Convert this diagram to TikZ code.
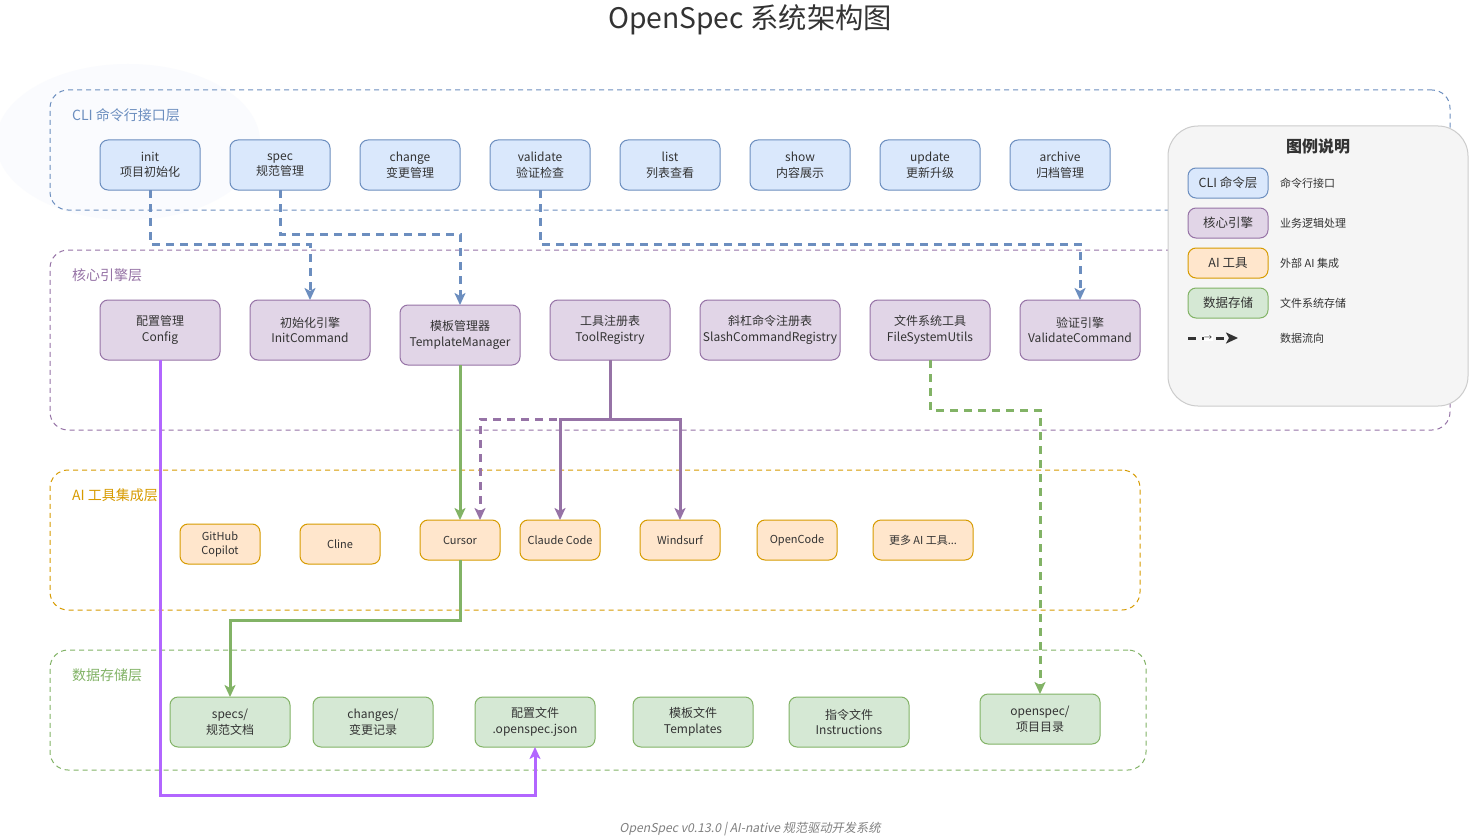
\documentclass[tikz,border=0pt]{standalone}
\usepackage{fontspec}
\setmainfont{Noto Sans CJK SC}
\newfontfamily\footfont[FakeSlant=0.2]{Noto Sans CJK SC}
\usetikzlibrary{arrows.meta,positioning,shapes.geometric}
\definecolor{clifill}{HTML}{DAE8FC}
\definecolor{clidraw}{HTML}{6C8EBF}
\definecolor{corefill}{HTML}{E1D5E7}
\definecolor{coredraw}{HTML}{9673A6}
\definecolor{aifill}{HTML}{FFE6CC}
\definecolor{aidraw}{HTML}{D79B00}
\definecolor{datafill}{HTML}{D5E8D4}
\definecolor{datadraw}{HTML}{82B366}
\definecolor{cfgline}{HTML}{B266FF}
\definecolor{textgray}{HTML}{333333}
\definecolor{legendfill}{HTML}{F5F5F5}
\definecolor{legenddraw}{HTML}{CCCCCC}
\definecolor{glow}{HTML}{FAFBFE}
\tikzset{
    %Define standard arrow tip
    >={Stealth[length=12pt,width=11pt,inset=3pt]},
    box/.style={
      rectangle,
      rounded corners=8pt,
      line width=1pt,
      inner sep=0pt,
      outer sep=0pt,
      align=center,
      text=textgray,
      font=\fontsize{12}{15.5}\selectfont},
    clibox/.style={box,
      draw=clidraw, fill=clifill,
      minimum width=100pt, minimum height=50pt},
    corebox/.style={box,
      draw=coredraw, fill=corefill,
      minimum width=120pt, minimum height=60pt},
    aibox/.style={box,
      draw=aidraw, fill=aifill,
      minimum width=80pt, minimum height=40pt,
      font=\fontsize{11}{14}\selectfont},
    databox/.style={box,
      draw=datadraw, fill=datafill,
      minimum width=120pt, minimum height=50pt},
    layer/.style={
      rectangle,
      rounded corners=18pt,
      line width=1pt,
      dash pattern=on 5pt off 4pt},
    layerlabel/.style={
      anchor=west,
      inner sep=0pt,
      font=\fontsize{14}{16}\selectfont},
    keybox/.style={
      minimum width=80pt, minimum height=30pt,
      font=\fontsize{12.5}{14}\selectfont},
    keytext/.style={
      anchor=west,
      inner sep=0pt,
      text=textgray,
      font=\fontsize{11}{13}\selectfont},
    flow/.style={
      ->,
      line width=3pt},
    dashflow/.style={flow,
      dash pattern=on 8pt off 6pt},
}
\begin{document}
\begin{tikzpicture}[x=1pt,y=-1pt]
    \useasboundingbox[fill=white] (0,0) rectangle (1469,840);
    \fill[glow] (128,142) ellipse (132pt and 78pt);

    % title
    \node (title) at (750,20)
          [text=textgray,font=\fontsize{28.3}{31}\selectfont]
          {OpenSpec 系统架构图};

    % layers
    \node (clilayer) [layer,draw=clidraw,
          minimum width=1400pt,minimum height=120pt] at (750,150) {};
    \node (corelayer) [layer,draw=coredraw,
          minimum width=1400pt,minimum height=180pt] at (750,340) {};
    \node (ailayer) [layer,draw=aidraw,
          minimum width=1090pt,minimum height=140pt] at (595,540) {};
    \node (datalayer) [layer,draw=datadraw,
          minimum width=1096pt,minimum height=120pt] at (598,710) {};
    \node (clilabel) [layerlabel,text=clidraw] at (72,115)
          {CLI 命令行接口层};
    \node (corelabel) [layerlabel,text=coredraw] at (72,275)
          {核心引擎层};
    \node (ailabel) [layerlabel,text=aidraw] at (72,495)
          {AI 工具集成层};
    \node (datalabel) [layerlabel,text=datadraw] at (72,675)
          {数据存储层};

    % CLI commands
    \node (init) [clibox] at (150,165)
          {init\\项目初始化};
    \node (spec) [clibox] [right=30pt of init]
          {spec\\规范管理};
    \node (change) [clibox] [right=30pt of spec]
          {change\\变更管理};
    \node (validate) [clibox] [right=30pt of change]
          {validate\\验证检查};
    \node (list) [clibox] [right=30pt of validate]
          {list\\列表查看};
    \node (show) [clibox] [right=30pt of list]
          {show\\内容展示};
    \node (update) [clibox] [right=30pt of show]
          {update\\更新升级};
    \node (archive) [clibox] [right=30pt of update]
          {archive\\归档管理};

    % core engine
    \node (config) [corebox] at (160,330)
          {配置管理\\Config};
    \node (initcmd) [corebox] [right=30pt of config]
          {初始化引擎\\InitCommand};
    \node (tplmgr) [corebox] [right=30pt of initcmd,yshift=-5pt]
          {模板管理器\\TemplateManager};
    \node (toolreg) [corebox] [right=30pt of tplmgr,yshift=5pt]
          {工具注册表\\ToolRegistry};
    \node (slashreg) [corebox,minimum width=140pt] [right=30pt of toolreg]
          {斜杠命令注册表\\SlashCommandRegistry};
    \node (fsutils) [corebox] [right=30pt of slashreg]
          {文件系统工具\\FileSystemUtils};
    \node (valcmd) [corebox] [right=30pt of fsutils]
          {验证引擎\\ValidateCommand};

    % AI tools
    \node (copilot) [aibox] at (220,544)
          {GitHub\\Copilot};
    \node (cline) [aibox] [right=40pt of copilot]
          {Cline};
    \node (cursor) [aibox] at (460,540)
          {Cursor};
    \node (claude) [aibox] [right=20pt of cursor]
          {Claude Code};
    \node (windsurf) [aibox] [right=40pt of claude]
          {Windsurf};
    \node (opencode) [aibox] [right=37pt of windsurf]
          {OpenCode};
    \node (moretools) [aibox,minimum width=100pt] [right=36pt of opencode]
          {更多 AI 工具...};

    % storage
    \node (specs) [databox] at (230,722)
          {specs/\\规范文档};
    \node (changes) [databox] [right=23pt of specs]
          {changes/\\变更记录};
    \node (cfgfile) [databox] [right=42pt of changes]
          {配置文件\\.openspec.json};
    \node (tplfiles) [databox] [right=38pt of cfgfile]
          {模板文件\\Templates};
    \node (instfiles) [databox] [right=36pt of tplfiles]
          {指令文件\\Instructions};
    \node (projdir) [databox] at (1040,719)
          {openspec/\\项目目录};

    % data flow
    \draw [dashflow,draw=clidraw] (init.south) -- ++(0,54) -| (initcmd.north);
    \draw [dashflow,draw=clidraw] (spec.south) -- ++(0,44) -| (tplmgr.north);
    \draw [dashflow,draw=clidraw] (validate.south) -- ++(0,54) -| (valcmd.north);
    \draw [flow,draw=cfgline] (config.south) -- ++(0,435) -| (cfgfile.south);
    \draw [flow,draw=datadraw] (tplmgr.south) -- (cursor.north);
    \draw [dashflow,draw=coredraw] (toolreg.south) -- ++(0,59)
          -| ([xshift=20pt]cursor.north);
    \draw [flow,draw=coredraw] (toolreg.south) -- ++(0,59) -| (claude.north);
    \draw [flow,draw=coredraw] (toolreg.south) -- ++(0,59) -| (windsurf.north);
    \draw [flow,draw=datadraw] (cursor.south) -- ++(0,60) -| (specs.north);
    \draw [dashflow,draw=datadraw] (fsutils.south) -- ++(0,50) -| (projdir.north);

    % legend
    \node (legend) [rectangle,rounded corners=30pt,draw=legenddraw,
          fill=legendfill,line width=1pt,
          minimum width=300pt,minimum height=280pt] at (1318,266) {};
    \node (legendtitle) at (1318,146)
          [text=textgray,font=\bfseries\fontsize{16}{18}\selectfont]
          {图例说明};
    \node (keycli) [clibox,keybox] at (1228,183) {CLI 命令层};
    \node (keycore) [corebox,keybox] at (1228,223) {核心引擎};
    \node (keyai) [aibox,keybox] at (1228,263) {AI 工具};
    \node (keydata) [databox,keybox] at (1228,303) {数据存储};
    \node (desccli) [keytext] at (1280,183) {命令行接口};
    \node (desccore) [keytext] at (1280,223) {业务逻辑处理};
    \node (descai) [keytext] at (1280,263) {外部 AI 集成};
    \node (descdata) [keytext] at (1280,303) {文件系统存储};
    \coordinate (keyfrom) at (1188,338);
    \coordinate (keyto) at (1238,338);
    \draw [dashflow,draw=textgray] (keyfrom) -- (keyto)
          node [pos=0.4,fill=white,inner sep=0.5pt,text=textgray,
          font=\fontsize{8}{8}\selectfont] (keyarrow) {→};
    \node (descflow) [keytext] at (1280,338) {数据流向};

    % footer
    \node (footer) at (750,829)
          [text=gray,font=\footfont\fontsize{12.2}{14}\selectfont]
          {OpenSpec v0.13.0 | AI-native 规范驱动开发系统};
\end{tikzpicture}
\end{document}
